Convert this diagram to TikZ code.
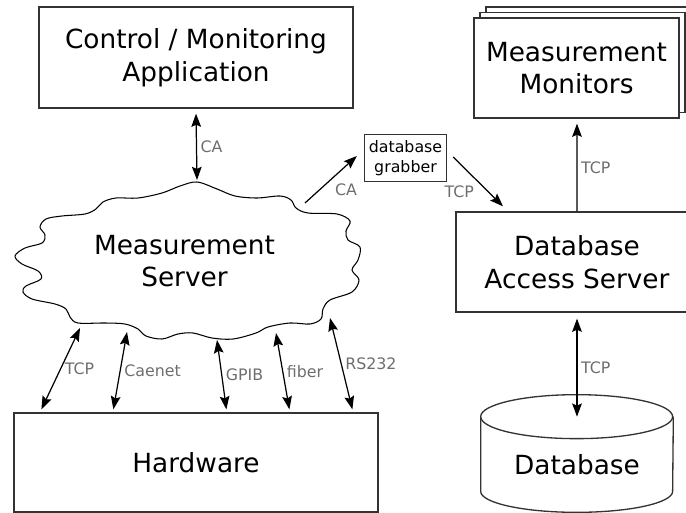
\documentclass[tikz,border=0pt]{standalone}
\usepackage{fontspec}
\setmainfont{DejaVu Sans}
\usepackage{xcolor}
\usepackage{tikz}
\usetikzlibrary{arrows.meta,positioning,shapes.geometric,shadows}

\definecolor{labelgray}{HTML}{6E6E6E}
\definecolor{linegray}{HTML}{333333}

\begin{document}
\begin{tikzpicture}[
    x=0.02cm, y=-0.02cm,
    font=\fontsize{15}{18.5}\selectfont,
    >={Stealth[length=7.5pt, width=5.5pt, inset=1.2pt]},
    mainbox/.style={draw=linegray, line width=0.75pt, align=center, fill=white, inner sep=0pt},
    smallbox/.style={mainbox, font=\fontsize{9}{11.3}\selectfont},
    stackbox/.style={mainbox, double copy shadow={shadow xshift=0.12cm, shadow yshift=0.11cm, draw=linegray, line width=0.75pt, fill=white}},
    cloudnode/.style={ellipse, align=center, inner sep=0pt},
    cloudline/.style={draw, line width=0.6pt},
    dbbody/.style={align=center, inner sep=0pt},
    dbline/.style={draw=linegray, line width=0.75pt},
    lbl/.style={font=\fontsize{9}{11}\selectfont, text=labelgray, inner sep=2pt},
    link/.style={<->, line width=0.7pt},
    flow/.style={->, line width=0.7pt}
  ]
    \useasboundingbox (0,0) rectangle (686,513);

    \node[mainbox, minimum width=6.28cm, minimum height=2.02cm] (ctrl) at (196,57.5) {Control / Monitoring\\Application};
    \node[cloudnode, minimum width=6.6cm, minimum height=2.84cm] (ms) at (184.5,261) {Measurement\\Server};
    \node[mainbox, minimum width=7.28cm, minimum height=1.98cm] (hw) at (196,462.5) {Hardware};
    \node[smallbox, minimum width=1.64cm, minimum height=0.94cm] (grab) at (405.5,158) {database\\grabber};
    \node[stackbox, minimum width=4.1cm, minimum height=2cm] (mon) at (576.5,68) {Measurement\\Monitors};
    \node[mainbox, minimum width=4.84cm, minimum height=2cm] (das) at (577,262) {Database\\Access Server};
    \node[dbbody, minimum width=3.84cm, minimum height=1.9cm] (db) at (577,464.5) {Database};

    % wavy outline of the server
    \draw[cloudline, shift={(ms.center)}] plot[smooth cycle, tension=0.55] coordinates {
      (-4.5,-75) (12.5,-79) (32.5,-72) (50.5,-65) (72.5,-63) (95.5,-65) (106.5,-61)
      (111.5,-53) (123.5,-48) (152.5,-47) (165.5,-40) (161.5,-30) (163.5,-21)
      (175.5,-14) (173.5,-1) (167.5,9) (174.5,19) (167.5,31) (145.5,39) (138.5,48)
      (136.5,58) (125.5,63) (105.5,62) (83.5,66) (71.5,72) (48.5,78) (27.5,77)
      (8.5,72) (-6.5,73) (-22.5,78) (-38.5,75) (-46.5,68) (-59.5,63) (-79.5,62)
      (-106.5,62) (-114.5,56) (-118.5,48) (-129.5,43) (-152.5,38) (-161.5,31)
      (-158.5,25) (-143.5,18) (-146.5,10) (-162.5,3) (-169.5,-5) (-159.5,-13)
      (-142.5,-18) (-139.5,-26) (-144.5,-34) (-138.5,-42) (-122.5,-45) (-99.5,-47)
      (-88.5,-52) (-81.5,-59) (-68.5,-63) (-46.5,-63) (-22.5,-68)};

    % database drum
    \draw[dbline] (db.north west) arc[start angle=180, end angle=-180, x radius=1.92cm, y radius=0.44cm];
    \draw[dbline] (db.north west) -- ([shift={(0,-21)}]db.south west)
      arc[start angle=180, end angle=360, x radius=1.92cm, y radius=0.42cm] -- (db.north east);

    % control <-> server
    \draw[link] ([shift={(0,5)}]ctrl.south) -- node[lbl, right] {CA} ([shift={(12.5,-81)}]ms.center);

    % server <-> hardware
    \draw[link] ([shift={(-104.5,67)}]ms.center) -- node[lbl, right] {TCP} ([shift={(28,-3)}]hw.north west);
    \draw[link] ([shift={(-57.5,71)}]ms.center) -- node[lbl, right] {Caenet} ([shift={(100,-3)}]hw.north west);
    \draw[link] ([shift={(32.5,79)}]ms.center) -- node[lbl, right] {GPIB} ([shift={(213,-3)}]hw.north west);
    \draw[link] ([shift={(91.5,72)}]ms.center) -- node[lbl, right] {fiber} ([shift={(276,-3)}]hw.north west);
    \draw[link] ([shift={(145.5,57)}]ms.center) -- node[lbl, right] {RS232} ([shift={(339,-3)}]hw.north west);

    % grabber path
    \draw[flow] ([shift={(120.5,-58)}]ms.center) -- node[lbl, below right] {CA} ([shift={(-7,-2)}]grab.west);
    \draw[flow] ([shift={(6,-1)}]grab.east) -- node[lbl, below left] {TCP} ([shift={(-74,-5)}]das.north);
    \draw[flow] (das.north) -- node[lbl, right] {TCP} ([shift={(0.5,5)}]mon.south);
    \draw[link] ([shift={(0,6)}]das.south) -- node[lbl, right] {TCP} (db.north);
\end{tikzpicture}
\end{document}
